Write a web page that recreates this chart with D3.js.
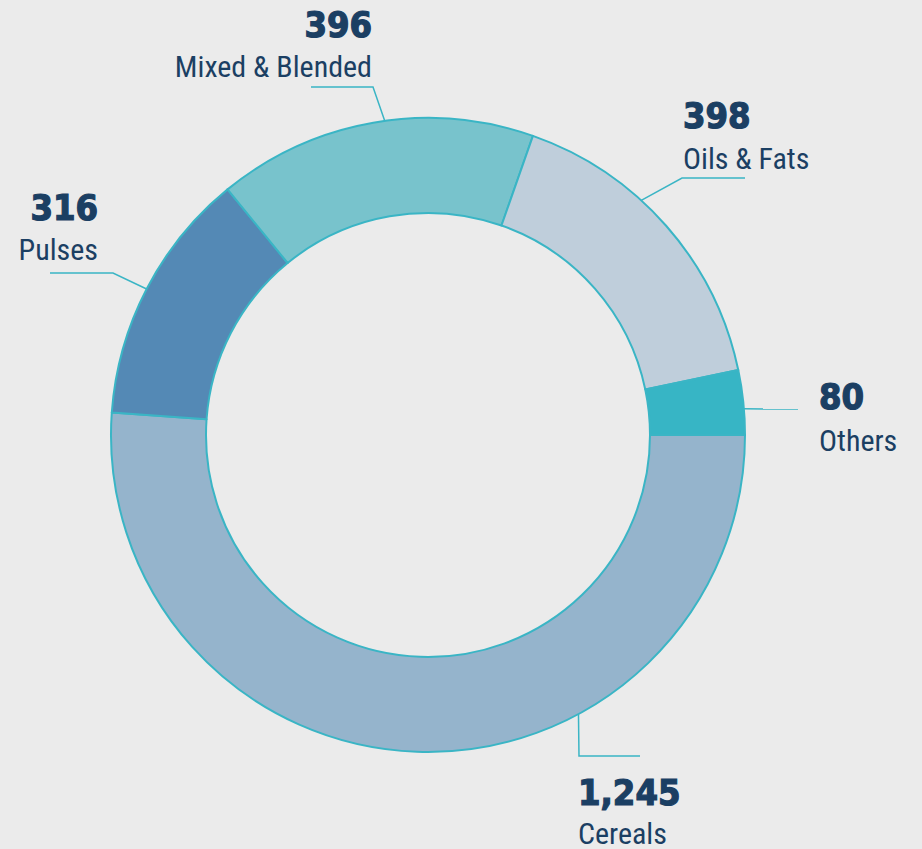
<!DOCTYPE html>
<html><head><meta charset="utf-8">
<script src="https://cdn.jsdelivr.net/npm/d3@7"></script>
<style>
html,body{margin:0;padding:0;background:#ebebeb;}
svg{display:block;}
.num{font-family:"DejaVu Sans Condensed","DejaVu Sans",sans-serif;font-weight:bold;font-size:36px;fill:#1b3f63;stroke:#1b3f63;stroke-width:1.2px;}
.lab{font-family:"Liberation Sans Narrow","Roboto Condensed","Liberation Sans",sans-serif;font-size:30px;fill:#1b3f63;}
</style></head>
<body>
<script>
const categories = ["Cereals","Pulses","Mixed & Blended","Oils & Fats","Others"];
const values = [1245, 316, 396, 398, 80];
const colors = ["#95b4cc","#5489b5","#78c3cc","#bfcedb","#37b5c5"];

// label layout: anchor fraction within slice, elbow/end points, text anchor
const layout = [
  {f:0.335, elbow:[579,756], end:[640,756], tx:578, ty:805, anchor:"start", gap:39},
  {f:0.50, elbow:[113,273], end:[50,273], tx:98, ty:220, anchor:"end", gap:40},
  {f:0.536, elbow:[373,87], end:[311,87], tx:372, ty:37, anchor:"end", gap:40},
  {f:0.39, elbow:[682,178], end:[745,178], tx:683, ty:128, anchor:"start", gap:41},
  {f:0.60, elbow:null, end:[798,409], tx:819, ty:409, anchor:"start", gap:42}
];

const W=922,H=849, cx=428, cy=435, R=317, r=222;
const svg=d3.select("body").append("svg").attr("width",W).attr("height",H);
svg.append("rect").attr("width",W).attr("height",H).attr("fill","#ebebeb");

const data = categories.map((c,i)=>({cat:c,value:values[i],color:colors[i],lay:layout[i]}));
const pie=d3.pie().value(d=>d.value).sort(null).startAngle(Math.PI/2).endAngle(Math.PI/2+2*Math.PI);
const arcs=pie(data);
const arc=d3.arc().innerRadius(r).outerRadius(R);
const g=svg.append("g").attr("transform",`translate(${cx},${cy})`);
g.selectAll("path").data(arcs).join("path")
  .attr("d",arc).attr("fill",d=>d.data.color)
  .attr("stroke","#3ab5c5").attr("stroke-width",2).attr("stroke-linejoin","round");

const fmt=d3.format(",");
arcs.forEach(a=>{
  const L=a.data.lay;
  const ang=a.startAngle+(a.endAngle-a.startAngle)*L.f;
  const px=cx+R*Math.sin(ang), py=cy-R*Math.cos(ang);
  const pts=[[px,py]];
  if(L.elbow) pts.push(L.elbow);
  pts.push(L.end);
  svg.append("path").attr("d",d3.line()(pts)).attr("fill","none")
    .attr("stroke","#3ab5c5").attr("stroke-width",1.5);
  svg.append("text").attr("class","num").attr("x",L.tx).attr("y",L.ty)
    .attr("text-anchor",L.anchor).text(fmt(a.data.value));
  svg.append("text").attr("class","lab").attr("x",L.tx).attr("y",L.ty+L.gap)
    .attr("text-anchor",L.anchor).text(a.data.cat);
});
</script>
</body></html>
